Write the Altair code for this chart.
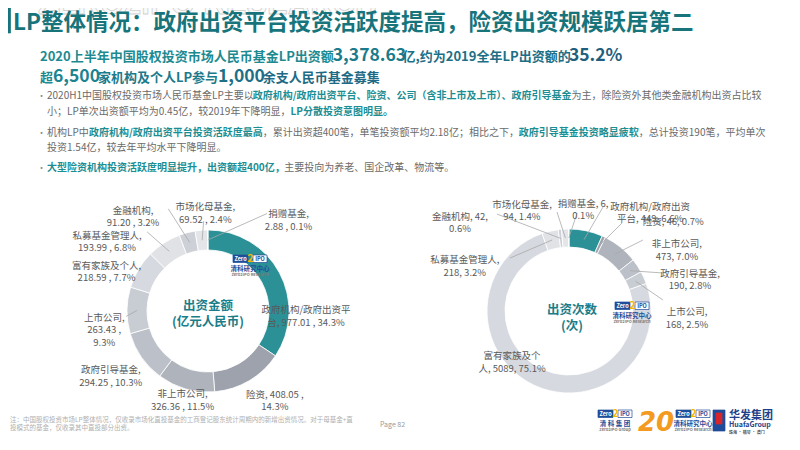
import altair as alt
import pandas as pd
import numpy as np

FONT = "Noto Sans CJK SC"
OFF = 8  # page margin: reference pixel -> chart pixel

# ---------------- data ----------------
categories = ["政府机构/政府出资平台", "险资", "非上市公司", "政府引导基金", "上市公司",
              "富有家族及个人", "私募基金管理人", "金融机构", "市场化母基金", "捐赠基金"]
amount_values = [977.01, 408.05, 326.36, 294.25, 263.43, 218.59, 193.99, 91.20, 69.52, 2.88]
count_values = [449, 46, 473, 190, 168, 5089, 218, 42, 94, 6]

title_text = "LP整体情况：政府出资平台投资活跃度提高，险资出资规模跃居第二"
headline_1 = ["2020上半年中国股权投资市场人民币基金LP出资额", "3,378.63", "亿,约为2019全年LP出资额的", "35.2%"]
headline_2 = ["超", "6,500", "家机构及个人LP参与", "1,000", "余支人民币基金募集"]
# (text, highlighted)
bullet_lines = [
    [("2020H1中国股权投资市场人民币基金LP主要以", 0),
     ("政府机构/政府出资平台、险资、公司（含非上市及上市）、政府引导基金", 1),
     ("为主，除险资外其他类金融机构出资占比较", 0)],
    [("小；LP单次出资额平均为0.45亿，较2019年下降明显，", 0), ("LP分散投资意图明显。", 1)],
    [("机构LP中", 0), ("政府机构/政府出资平台投资活跃度最高", 1),
     ("，累计出资超400笔，单笔投资额平均2.18亿；相比之下，", 0),
     ("政府引导基金投资略显疲软", 1), ("，总计投资190笔，平均单次", 0)],
    [("投资1.54亿，较去年平均水平下降明显。", 0)],
    [("大型险资机构投资活跃度明显提升，出资额超400亿，", 1), ("主要投向为养老、国企改革、物流等。", 0)],
]
bullet_starts = [True, False, True, False, True]
center_left = ["出资金额", "(亿元人民币)"]
center_right = ["出资次数", "(次)"]
footnote = ["注：中国股权投资市场LP整体情况，仅收录市场化直投基金的工商登记股东统计周期内的新增出资情况。对于母基金+直",
            "投模式的基金，仅收录其中直投部分出资。"]
page_text = "Page  82"

# ---------------- styles / layout ----------------
slice_colors = ["#2b9196", "#9da2ac", "#aeb3bc", "#bcc1c9", "#c8ccd3",
                "#d6d9df", "#e0e2e6", "#cdd1d7", "#e3e5e9", "#eceef0"]
TEAL_TITLE = "#17747b"
TEAL_HI = "#1a8e93"
GRAY_TXT = "#6a6a6a"
LABEL_GRAY = "#5a5a5a"
head1_sizes = [13, 17.5, 13, 17.5]
head1_colors = ["#1d8a91", "#1b7b8b", "#1d6f86", "#1f5f7d"]
head2_sizes = [13, 17.5, 13, 17.5, 13]
head2_colors = ["#1d8a91", "#1c8390", "#1d7a8a", "#1d7088", "#1e6a84"]
bullet_baselines = [98.5, 114.5, 135.5, 150.5, 170.5]

# donut geometry (reference pixels)
L_C, L_RIN, L_ROUT = (208, 311), 61, 81
R_C, R_RIN, R_ROUT = (569, 311), 64, 82
# label placement: angular nudge from slice mid-angle (deg), radius (px)
left_nudge = [27.7, -8.1, 1.1, 3.4, -4.1, -7.0, -20.3, -21.9, 3.3, 39.9]
left_lrad = [98, 107, 87, 114, 104, 111, 126, 125, 104, 126]
right_nudge = [26.0, 24.5, 19.3, 16.5, 24.5, 26.0, -50.6, -42.8, -21.1, 7.7]
right_lrad = [132, 137, 127, 126.5, 118, 72.6, 116, 144, 116, 108]
# leader line end: (nudge deg, radius) or None
left_leader = [None, None, None, None, (-4.2, 82), None, (-4.6, 99.8), (-6.3, 109.6), (2.0, 90), (31.4, 114)]
right_leader = [(6.2, 109.4), (6.0, 102.7), (7.3, 102.5), (11.5, 101.4), (17.3, 94.6), None,
                (-34.8, 79.3), (-30.2, 120.8), (-4.1, 99.7), (4.9, 98.3)]
left_fmt = ["{n}, {v} , {p}%", "{n}, {v} ,\n{p}%", "{n},\n{v} , {p}%", "{n},\n{v} , {p}%",
            "{n},\n{v} ,\n{p}%", "{n},\n{v} , {p}%", "{n},\n{v} , {p}%", "{n},\n{v} , {p}%",
            "{n},\n{v} , {p}%", "{n},\n{v} , {p}%"]
left_break = [10, None, None, None, None, None, None, None, None, None]
right_fmt = ["{n}, {v}, {p}%", "{n}, {v}, {p}%", "{n},\n{v}, {p}%", "{n},\n{v}, {p}%",
             "{n},\n{v}, {p}%", "{n}, {v}, {p}%", "{n},\n{v}, {p}%", "{n}, {v},\n{p}%",
             "{n},\n{v}, {p}%", "{n}, {v},\n{p}%"]
right_break = [9, None, None, None, None, 6, None, None, None, None]


# ---------------- helpers ----------------
def em(ch):
    o = ord(ch)
    if ch in "（）":
        return 0.75
    if o >= 0x2E80 or ch in "，、；：。":
        return 1.0
    if ch.isdigit():
        return 0.555
    if ch in ".,":
        return 0.27
    if ch == "/":
        return 0.37
    if ch == "%":
        return 0.88
    if ch == " ":
        return 0.23
    if ch == "+":
        return 0.6
    if ch.isupper():
        return 0.6
    return 0.5


def text_w(s, size, bold):
    w = 0.0
    for ch in s:
        e = em(ch)
        if bold and e < 0.7:
            e *= 1.03
        w += e
    return w * size


def X(f="x"):
    return alt.X(f + ":Q", scale=None, axis=None)


def Y(f="y"):
    return alt.Y(f + ":Q", scale=None, axis=None)


def text_layer(rows, align="left", baseline="alphabetic", bold=False, font=FONT, **kw):
    df = pd.DataFrame(rows)
    df["x"] = df["x"] - OFF
    df["y"] = df["y"] - OFF
    return alt.Chart(df).mark_text(align=align, baseline=baseline, font=font,
                                   fontWeight="bold" if bold else "normal", **kw).encode(
        x=X(), y=Y(), text=alt.Text("t:N"),
        size=alt.Size("s:Q", scale=None, legend=None),
        color=alt.Color("c:N", scale=None, legend=None))


def rect_layer(rows):
    df = pd.DataFrame(rows)
    for k in ["x", "x2", "y", "y2"]:
        df[k] = df[k] - OFF
    return alt.Chart(df).mark_rect(strokeWidth=0.7).encode(
        x=X(), x2="x2:Q", y=Y(), y2="y2:Q",
        fill=alt.Fill("f:N", scale=None, legend=None),
        stroke=alt.Stroke("st:N", scale=None, legend=None))


def polar(c, ang, r):
    a = np.radians(ang)
    return c[0] + r * np.sin(a), c[1] - r * np.cos(a)


def mid_angles(values):
    v = np.asarray(values, dtype=float)
    start = np.cumsum(v) - v
    return (start + v / 2) / v.sum() * 360.0


def donut(values, c, rin, rout):
    df = pd.DataFrame({"cat": categories, "v": values, "idx": list(range(len(values)))})
    return alt.Chart(df).mark_arc(innerRadius=rin, outerRadius=rout, stroke="white", strokeWidth=0.8).encode(
        theta=alt.Theta("v:Q", stack=True),
        color=alt.Color("cat:N", scale=alt.Scale(domain=categories, range=slice_colors), legend=None),
        order=alt.Order("idx:Q"),
        x=alt.value(c[0] - OFF), y=alt.value(c[1] - OFF))


def donut_labels(values, c, rin, rout, nudge, lrad, leaders, fmts, breaks, vfmt):
    mids = mid_angles(values)
    total = float(sum(values))
    lab, lines = [], []
    for i, (n, v) in enumerate(zip(categories, values)):
        name = n if breaks[i] is None else n[:breaks[i]] + "\n" + n[breaks[i]:]
        t = fmts[i].format(n=name, v=vfmt(v), p=f"{v / total * 100:.1f}")
        lx, ly = polar(c, mids[i] + nudge[i], lrad[i])
        lab.append({"x": lx, "y": ly, "t": t, "s": 9.5, "c": LABEL_GRAY})
        if leaders[i] is not None:
            sx, sy = polar(c, mids[i], (rin + rout) / 2)
            ex, ey = polar(c, mids[i] + leaders[i][0], leaders[i][1])
            lines.append({"x": sx - OFF, "y": sy - OFF, "x2": ex - OFF, "y2": ey - OFF})
    rules = alt.Chart(pd.DataFrame(lines)).mark_rule(color="#a8a8a8", strokeWidth=0.8).encode(
        x=X(), x2="x2:Q", y=Y(), y2="y2:Q")
    texts = text_layer(lab, align="center", baseline="middle", lineBreak="\n", lineHeight=12.5)
    return rules, texts


def logo_parts(x0, y0, sub, tiny):
    rects = [{"x": x0, "x2": x0 + 15, "y": y0, "y2": y0 + 7.5, "f": "#1f4e9a", "st": "#1f4e9a"},
             {"x": x0 + 20, "x2": x0 + 34, "y": y0, "y2": y0 + 7.5, "f": "#ffffff", "st": "#1f4e9a"}]
    texts = [{"x": x0 + 7.5, "y": y0 + 3.9, "t": "Zero", "s": 5.5, "c": "#ffffff"},
             {"x": x0 + 17.5, "y": y0 + 3.6, "t": "2", "s": 11, "c": "#f2b705"},
             {"x": x0 + 27, "y": y0 + 3.9, "t": "IPO", "s": 5.5, "c": "#1f4e9a"},
             {"x": x0 + 17, "y": y0 + 13.5, "t": sub, "s": 6.5, "c": "#1f4e9a"},
             {"x": x0 + 17, "y": y0 + 19.5, "t": tiny, "s": 4, "c": "#7a7a7a"}]
    return rects, texts


# ---------------- build ----------------
layers = []

# watermark
layers.append(text_layer([{"x": 38, "y": 14, "t": "ZERO2IPO RESEARCH", "s": 31, "c": "#f5f5f5"}],
                         bold=True, font="Liberation Sans", fillOpacity=0.6, stroke="#d2d2d2", strokeWidth=0.8))

# title
layers.append(rect_layer([{"x": 8, "x2": 10.5, "y": 8, "y2": 33, "f": TEAL_TITLE, "st": TEAL_TITLE}]))
layers.append(text_layer([{"x": 13, "y": 30, "t": title_text, "s": 22.5, "c": TEAL_TITLE}], bold=True))

# headline lines
seg_bold = []
for parts, sizes, cols, base in [(headline_1, head1_sizes, head1_colors, 61),
                                  (headline_2, head2_sizes, head2_colors, 82)]:
    x = 40.0
    for t, s, c in zip(parts, sizes, cols):
        seg_bold.append({"x": x, "y": base, "t": t, "s": s, "c": c})
        x += text_w(t, s, True)

# bullets
seg_norm = []
dots = []
for line, base, first in zip(bullet_lines, bullet_baselines, bullet_starts):
    x = 47.0
    if first:
        dots.append({"x": 37, "y": base, "t": "•", "s": 9, "c": "#8a8a8a"})
    for t, hi in line:
        if hi:
            seg_bold.append({"x": x, "y": base, "t": t, "s": 10, "c": TEAL_HI})
        else:
            seg_norm.append({"x": x, "y": base, "t": t, "s": 10, "c": GRAY_TXT})
        x += text_w(t, 10, bool(hi))

layers.append(text_layer(seg_bold, bold=True))
layers.append(text_layer(seg_norm))
layers.append(text_layer(dots))

# donuts
layers.append(donut(amount_values, L_C, L_RIN, L_ROUT))
layers.append(donut(count_values, R_C, R_RIN, R_ROUT))

lr, lt = donut_labels(amount_values, L_C, L_RIN, L_ROUT, left_nudge, left_lrad, left_leader,
                      left_fmt, left_break, lambda v: f"{v:.2f}")
rr, rt = donut_labels(count_values, R_C, R_RIN, R_ROUT, right_nudge, right_lrad, right_leader,
                      right_fmt, right_break, lambda v: f"{int(v)}")
layers += [lr, rr, lt, rt]

# donut centre captions
cap = [{"x": L_C[0], "y": 306, "t": center_left[0], "s": 12.5, "c": "#1b7d88"},
       {"x": L_C[0], "y": 322, "t": center_left[1], "s": 12.5, "c": "#1b7d88"},
       {"x": R_C[0] + 3, "y": 310, "t": center_right[0], "s": 12.5, "c": "#1b7d88"},
       {"x": R_C[0] + 3, "y": 326, "t": center_right[1], "s": 12.5, "c": "#1b7d88"}]
layers.append(text_layer(cap, align="center", baseline="middle", bold=True))

# logos
logo_rects, logo_texts = [], []
for (x0, y0, sub, tiny) in [(233, 255, "清科研究中心", "Zero2IPO Research"),
                            (615, 302, "清科研究中心", "Zero2IPO Research"),
                            (598, 410, "清 科 集 团", "Zero2IPO Group"),
                            (676, 410, "清科研究中心", "Zero2IPO Research")]:
    r, t = logo_parts(x0, y0, sub, tiny)
    logo_rects += r
    logo_texts += t
logo_rects += [{"x": 713, "x2": 725, "y": 410, "y2": 431, "f": "#1e4c9a", "st": "#1e4c9a"},
               {"x": 716, "x2": 722, "y": 413, "y2": 424, "f": "#d7262b", "st": "#d7262b"}]
layers.append(rect_layer(logo_rects))
layers.append(text_layer(logo_texts, align="center", baseline="middle", bold=True))
layers.append(text_layer([{"x": 656, "y": 423, "t": "20", "s": 26, "c": "#f39a21"}],
                         align="center", baseline="middle", bold=True, font="DejaVu Sans", fontStyle="italic"))
layers.append(text_layer([{"x": 729, "y": 416, "t": "华发集团", "s": 11, "c": "#1e3f8a"},
                          {"x": 729, "y": 425, "t": "HuafaGroup", "s": 7, "c": "#1e3f8a"},
                          {"x": 729, "y": 433, "t": "珠海 · 横琴 · 澳门", "s": 4, "c": "#555555"}],
                         align="left", baseline="middle", bold=True))

# footer
foot = [{"x": 10, "y": 420, "t": footnote[0], "s": 6.5, "c": "#b0b0b0"},
        {"x": 10, "y": 428, "t": footnote[1], "s": 6.5, "c": "#b0b0b0"},
        {"x": 380, "y": 425, "t": page_text, "s": 7, "c": "#9a9a9a"}]
layers.append(text_layer(foot, align="left", baseline="middle"))

chart = alt.layer(*layers).resolve_scale(theta="independent").properties(
    width=784, height=434, padding=0, background="white",
    autosize=alt.AutoSizeParams(type="none")
).configure_view(strokeWidth=0)

chart.save("out.html", embed_options={"renderer": "svg", "actions": False})
